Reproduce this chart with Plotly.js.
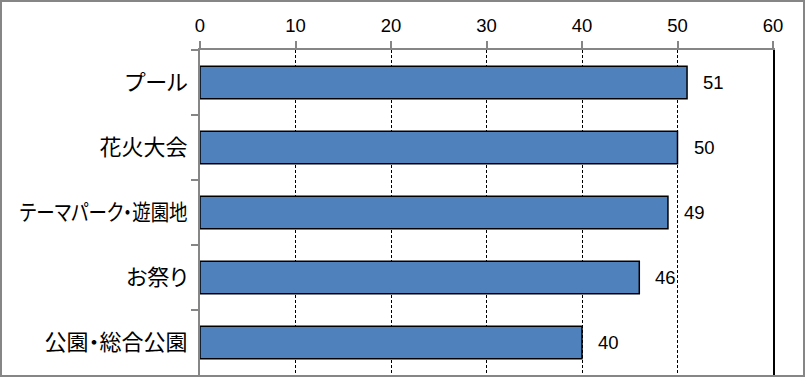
<!DOCTYPE html>
<html>
<head>
<meta charset="utf-8">
<script src="https://cdn.plot.ly/plotly-3.0.1.min.js"></script>
<style>
  html, body { margin: 0; padding: 0; background: #fff; }
  #chart { width: 805px; height: 377px; box-sizing: border-box; border: 2px solid #868686; }
  .ytick text { font-feature-settings: "palt"; }
</style>
</head>
<body>
<div id="chart"></div>
<script>
const categories = ["プール", "花火大会", "テーマパーク・遊園地", "お祭り", "公園・総合公園"];
const values = [51, 50, 49, 46, 40];
const xTicks = [0, 10, 20, 30, 40, 50, 60];

const numFont = "Liberation Sans, Arial, sans-serif";
const jpFont = "Noto Sans CJK JP, sans-serif";

const trace = {
  type: "bar",
  orientation: "h",
  y: categories,
  x: values,
  marker: { color: "#4f81bd", line: { color: "#000", width: 1.5 } },
  hoverinfo: "none"
};

const annotations = categories.map((c, i) => ({
  x: values[i], y: c, xref: "x", yref: "y",
  text: String(values[i]), showarrow: false,
  xanchor: "left", yanchor: "middle", xshift: 14,
  font: { family: numFont, size: 18.5, color: "#000" }
}));

const layout = {
  width: 801, height: 373,
  margin: { l: 198, r: 30, t: 48, b: 0, pad: 0 },
  paper_bgcolor: "#fff", plot_bgcolor: "#fff",
  showlegend: false,
  bargap: 0.5,
  xaxis: {
    side: "top", range: [0, 60],
    tickvals: xTicks, ticktext: xTicks.map(String),
    ticks: "outside", ticklen: 7, tickwidth: 2, tickcolor: "#868686",
    showline: true, linecolor: "#868686", linewidth: 2,
    showgrid: true, gridcolor: "#000", gridwidth: 1, griddash: "3px,2px",
    zeroline: false, ticklabelstandoff: 2,
    tickfont: { family: numFont, size: 18.5, color: "#000" },
    fixedrange: true
  },
  yaxis: {
    type: "category", autorange: "reversed",
    ticks: "outside", ticklen: 7, tickwidth: 2, tickcolor: "#868686",
    tickson: "boundaries", ticklabelstandoff: 6,
    showline: true, linecolor: "#868686", linewidth: 2,
    showgrid: false, zeroline: false,
    tickfont: { family: jpFont, size: 22, color: "#000" },
    fixedrange: true
  },
  yaxis2: {
    overlaying: "y", side: "right",
    showline: true, linecolor: "#000", linewidth: 2,
    showticklabels: false, ticks: "", showgrid: false, zeroline: false,
    fixedrange: true
  },
  annotations: annotations
};

const dummy = { type: "scatter", x: [], y: [], yaxis: "y2", hoverinfo: "none" };

Plotly.newPlot("chart", [trace, dummy], layout, { displayModeBar: false, staticPlot: true }).then(() => {
  // keep long category labels inside the left margin (reference font is proportional and narrower)
  const maxW = 170;
  document.querySelectorAll("#chart .ytick text").forEach(t => {
    const w = t.getComputedTextLength();
    if (w > maxW) {
      t.setAttribute("textLength", maxW - 2);
      t.setAttribute("lengthAdjust", "spacingAndGlyphs");
    }
  });
});
</script>
</body>
</html>
